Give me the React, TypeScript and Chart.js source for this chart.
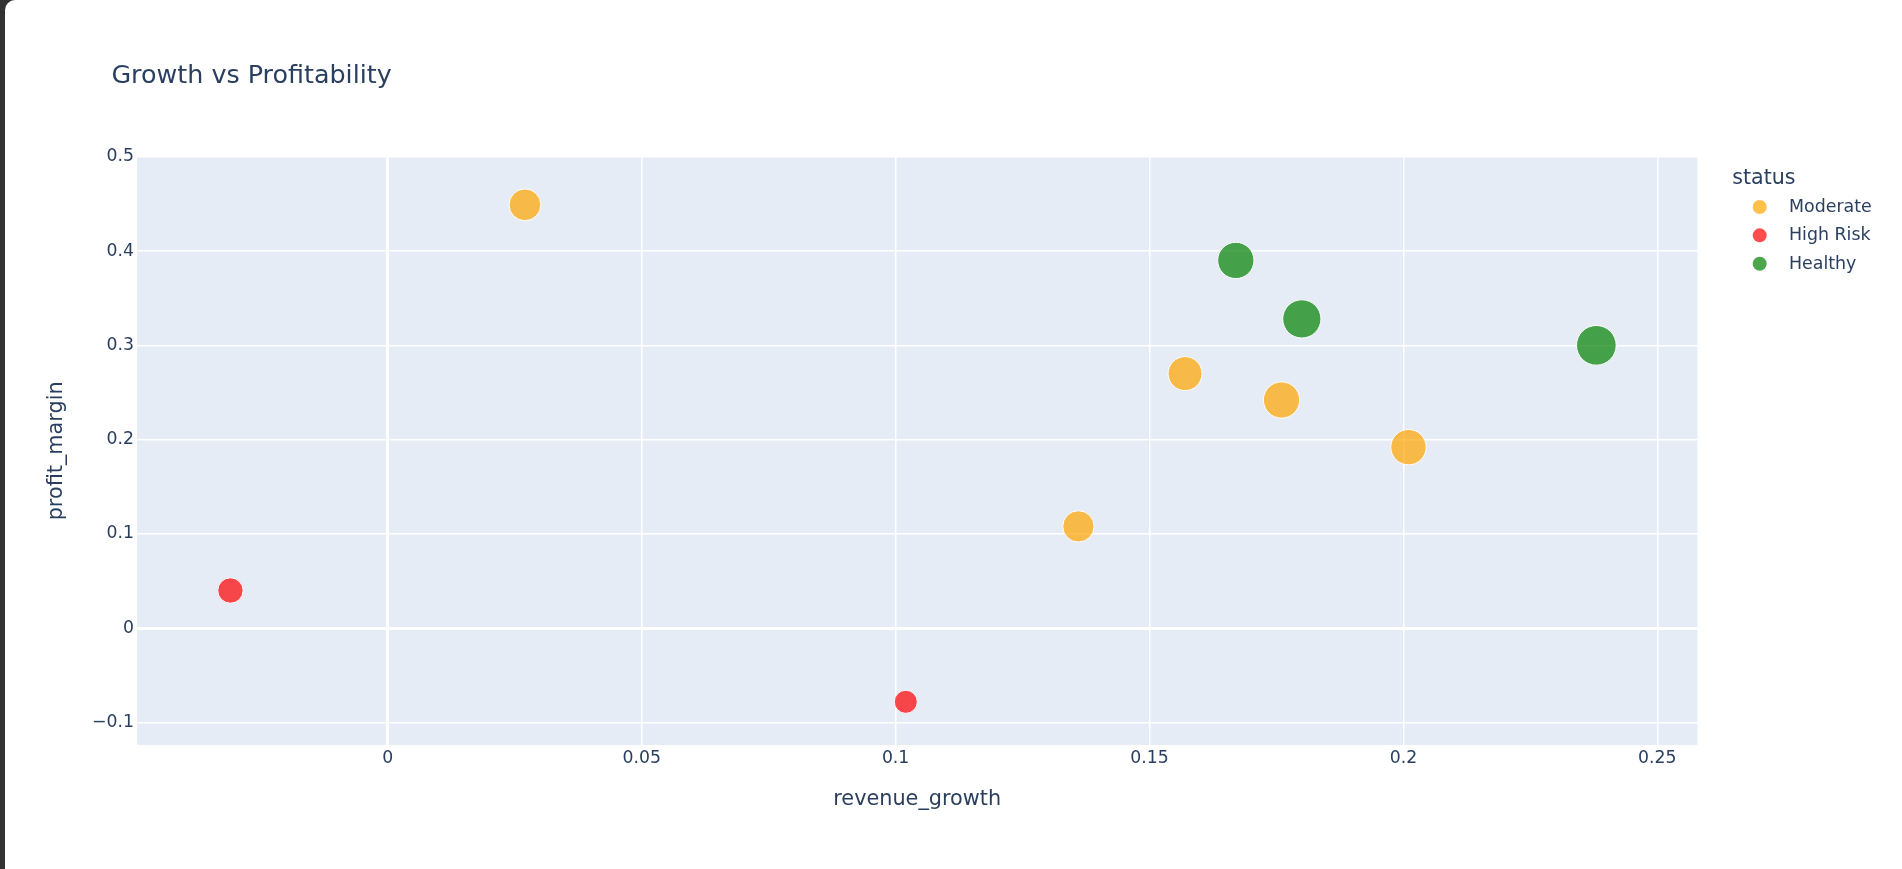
import React, { useEffect, useRef } from "react";
import { Chart, registerables } from "chart.js";

Chart.register(...registerables);

// ---------- data ----------
const chartTitle = "Growth vs Profitability";
const xAxisTitle = "revenue_growth";
const yAxisTitle = "profit_margin";
const legendTitle = "status";
const statuses = ["Moderate", "High Risk", "Healthy"];

const moderateGrowth = [0.027, 0.136, 0.157, 0.176, 0.201];
const moderateMargin = [0.449, 0.108, 0.27, 0.242, 0.192];
const moderateSize = [65, 63, 74, 84, 80];

const highRiskGrowth = [-0.031, 0.102];
const highRiskMargin = [0.04, -0.078];
const highRiskSize = [42, 35];

const healthyGrowth = [0.167, 0.18, 0.238];
const healthyMargin = [0.39, 0.328, 0.3];
const healthySize = [84, 93, 100];

const xTickValues = [0, 0.05, 0.1, 0.15, 0.2, 0.25];
const yTickValues = [-0.1, 0, 0.1, 0.2, 0.3, 0.4, 0.5];
const xRange = [-0.0494, 0.2579];
const yRange = [-0.1238, 0.5];

// ---------- style ----------
const FONT = '"DejaVu Sans", Verdana, sans-serif';
const TEXT = "#2a3f5f";
const PLOT_BG = "#E5ECF6";
const fills = ["rgba(255,165,0,0.7)", "rgba(255,0,0,0.7)", "rgba(0,128,0,0.7)"];
const MAX_DIAMETER = 40.7;

const W = 1902;
const H = 869;
const AREA = { left: 137, right: 1697.4, top: 156.7, bottom: 745 };

const radiusOf = (v: number, maxV: number) =>
  (MAX_DIAMETER / 2) * Math.sqrt(v / maxV) - 0.5;

const fmt = (v: number) => {
  const s = String(parseFloat(v.toFixed(4)));
  return s.replace("-", "\u2212");
};

export default function App() {
  const ref = useRef<HTMLCanvasElement | null>(null);

  useEffect(() => {
    if (!ref.current) return;
    const maxSize = Math.max(...moderateSize, ...highRiskSize, ...healthySize);
    const groups = [
      [moderateGrowth, moderateMargin, moderateSize],
      [highRiskGrowth, highRiskMargin, highRiskSize],
      [healthyGrowth, healthyMargin, healthySize],
    ];
    const datasets = groups.map((g, i) => ({
      label: statuses[i],
      data: g[0].map((x, j) => ({ x, y: g[1][j], r: radiusOf(g[2][j], maxSize) })),
      backgroundColor: fills[i],
      borderColor: "#ffffff",
      borderWidth: 1,
      hoverBorderWidth: 1,
    }));

    const decor = {
      id: "decor",
      beforeDraw(chart: any) {
        const { ctx, chartArea: a } = chart;
        ctx.save();
        ctx.fillStyle = PLOT_BG;
        ctx.fillRect(a.left, a.top, a.right - a.left, a.bottom - a.top);
        ctx.restore();
      },
      afterDraw(chart: any) {
        const { ctx, chartArea: a } = chart;
        ctx.save();
        ctx.fillStyle = TEXT;
        // chart title
        ctx.font = `25.4px ${FONT}`;
        ctx.textAlign = "left";
        ctx.textBaseline = "alphabetic";
        ctx.fillText(chartTitle, 111.4, 82.5);
        // x axis title
        ctx.font = `20.8px ${FONT}`;
        ctx.textAlign = "center";
        ctx.fillText(xAxisTitle, (a.left + a.right) / 2, 805.3);
        // y axis title
        ctx.save();
        ctx.translate(62, (a.top + a.bottom) / 2);
        ctx.rotate(-Math.PI / 2);
        ctx.fillText(yAxisTitle, 0, 0);
        ctx.restore();
        // legend
        ctx.textAlign = "left";
        ctx.font = `20.6px ${FONT}`;
        ctx.fillText(legendTitle, 1732.3, 184);
        ctx.font = `17.4px ${FONT}`;
        ctx.textBaseline = "middle";
        statuses.forEach((s, i) => {
          const cy = 207 + i * 28.35;
          ctx.beginPath();
          ctx.arc(1759.7, cy, 7, 0, Math.PI * 2);
          ctx.fillStyle = fills[i];
          ctx.fill();
          ctx.fillStyle = TEXT;
          ctx.fillText(s, 1789, cy + 0.3);
        });
        ctx.restore();
      },
    };

    const gridWidth = (c: any) => (c.tick && Math.abs(c.tick.value) < 1e-9 ? 3 : 1.5);

    const chart = new Chart(ref.current, {
      type: "bubble",
      data: { datasets },
      options: {
        animation: false,
        responsive: false,
        devicePixelRatio: 1,
        events: [],
        layout: {
          autoPadding: false,
          padding: {
            left: 0,
            top: AREA.top,
            right: W - AREA.right,
            bottom: H - AREA.bottom - 40,
          },
        },
        plugins: {
          legend: { display: false },
          title: { display: false },
          tooltip: { enabled: false },
        },
        scales: {
          x: {
            type: "linear",
            min: xRange[0],
            max: xRange[1],
            afterFit: (s: any) => {
              s.height = 40;
            },
            afterBuildTicks: (s: any) => {
              s.ticks = xTickValues.map((v) => ({ value: v }));
            },
            border: { display: false },
            grid: { color: "#ffffff", lineWidth: gridWidth, drawTicks: false },
            ticks: {
              autoSkip: false,
              maxRotation: 0,
              padding: 3,
              color: TEXT,
              font: { family: FONT, size: 17.3 },
              callback: (v: any) => fmt(Number(v)),
            },
          },
          y: {
            type: "linear",
            min: yRange[0],
            max: yRange[1],
            afterFit: (s: any) => {
              s.width = AREA.left;
            },
            afterBuildTicks: (s: any) => {
              s.ticks = yTickValues.map((v) => ({ value: v }));
            },
            border: { display: false },
            grid: { color: "#ffffff", lineWidth: gridWidth, drawTicks: false },
            ticks: {
              autoSkip: false,
              padding: 3,
              color: TEXT,
              font: { family: FONT, size: 17.3 },
              callback: (v: any) => fmt(Number(v)),
            },
          },
        },
      },
      plugins: [decor],
    } as any);

    return () => chart.destroy();
  }, []);

  return (
    <div
      style={{
        position: "absolute",
        left: 0,
        top: 0,
        width: W,
        height: H,
        background: "#323232",
        overflow: "hidden",
      }}
    >
      <div
        style={{
          position: "absolute",
          left: 4.5,
          top: 0,
          right: 0,
          bottom: 0,
          background: "#ffffff",
          borderTopLeftRadius: 10,
        }}
      />
      <canvas
        ref={ref}
        width={W}
        height={H}
        style={{ position: "absolute", left: 0, top: 0, width: W, height: H, display: "block" }}
      />
    </div>
  );
}
